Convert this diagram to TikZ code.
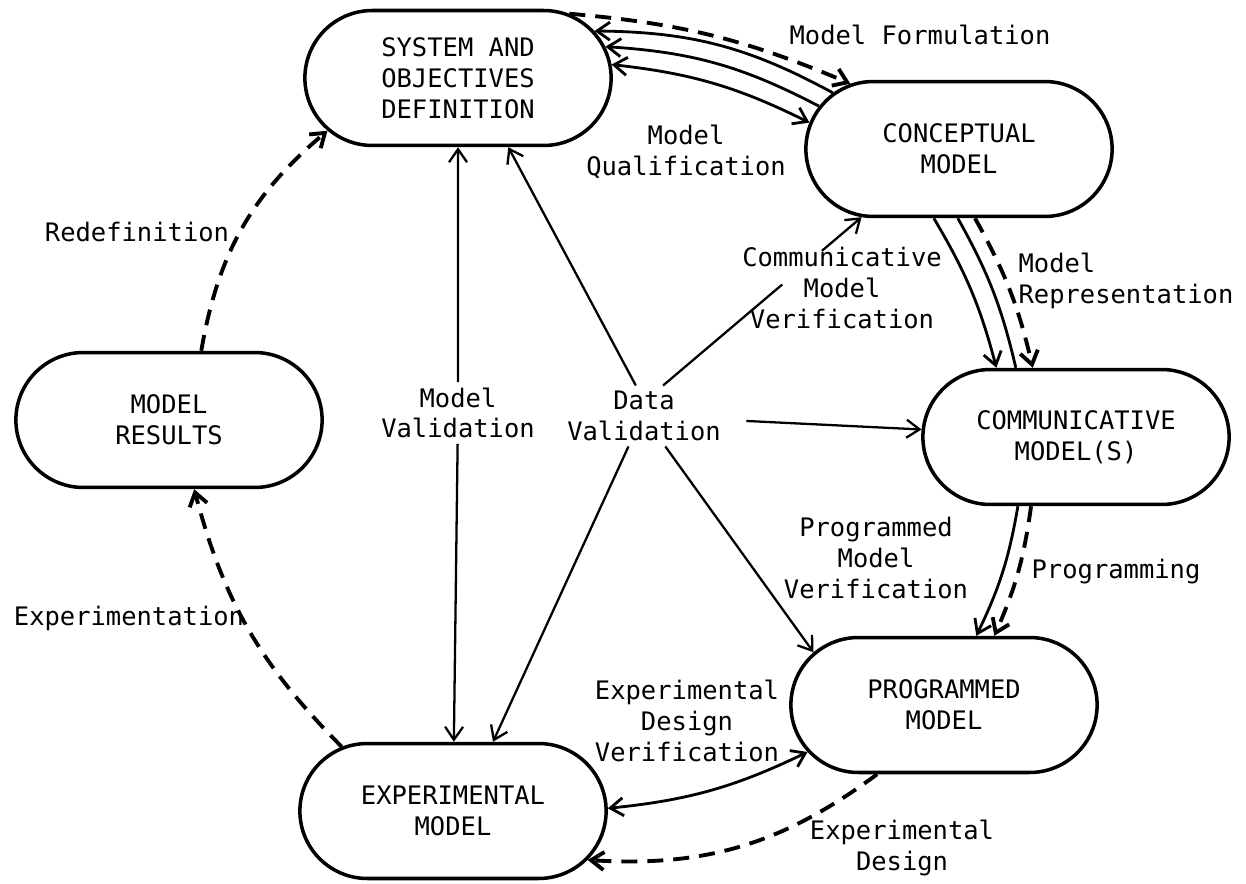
\documentclass[tikz,border=0pt]{standalone}
\usepackage{fontspec}
\setmonofont{DejaVu Sans Mono}
\usetikzlibrary{shapes.misc,arrows.meta,calc}
\tikzset{every node/.append style={font=\ttfamily\fontsize{14.5}{17.5}\selectfont}}
\tikzset{
	model/.style={rounded rectangle,draw,line width=2pt,minimum width=6.36cm,minimum height=2.7cm,align=center},
	tag/.style={align=center,inner sep=3pt},
	link/.style={line width=1.6pt},
	dashlink/.style={line width=2.2pt,dash pattern=on 3.2mm off 2mm},
	vline/.style={line width=1.3pt}
}

\begin{document}
\begin{tikzpicture}[x=0.02cm,y=0.02cm,>={Straight Barb[length=2.6mm,width=3.6mm]}]
	\useasboundingbox (0,0) rectangle (1246,883);
	% the six models
	\node[model] (sys) at (458,805) {SYSTEM AND\\OBJECTIVES\\DEFINITION};
	\node[model] (concept) at (959,734) {CONCEPTUAL\\MODEL};
	\node[model] (commun) at (1076,446) {COMMUNICATIVE\\MODEL(S)};
	\node[model] (prog) at (944,178) {PROGRAMMED\\MODEL};
	\node[model] (expm) at (453,72) {EXPERIMENTAL\\MODEL};
	\node[model] (results) at (169,463) {MODEL\\RESULTS};
	
	\node[tag,anchor=west] (formulation) at (784,848) {Model Formulation};
	\node[tag] (qualification) at (686,731) {Model\\Qualification};
	\node[tag] (redefinition) at (137,651) {Redefinition};
	\node[tag] (mvalid) at (458,470) {Model\\Validation};
	\node[tag] (dvalid) at (644,467) {Data\\Validation};
	\node[tag] (cmverif) at (842,595) {Communicative\\Model\\Verification};
	\node[tag,anchor=west,align=left] (represent) at (1013,602) {Model\\Representation};
	\node[tag] (pmverif) at (876,325) {Programmed\\Model\\Verification};
	\node[tag] (programming) at (1116,311) {Programming};
	\node[tag] (experimentation) at (129,265) {Experimentation};
	\node[tag] (edverif) at (687,162) {Experimental\\Design\\Verification};
	\node[tag] (edesign) at (902,35) {Experimental\\Design};
	
	% formulation, qualification
	\draw[dashlink,->] (sys.30) to[bend left=9] (concept.149);
	\draw[link,<-] (sys.19) to[bend left=14] (concept.156);
	\draw[link,<-] (sys.12) to[bend left=12] (concept.163);
	\draw[link,<->] (sys.5) to[bend left=10] (concept.170);
	% representation, programming
	\draw[link,->] (concept.250) to[bend left=8] (commun.139);
	\draw[link] (concept.269) to[bend left=8] (commun.131);
	\draw[dashlink,->] (concept.283) to[bend left=8] (commun.122);
	\draw[link,->] (commun.230) to[bend left=8] (prog.65);
	\draw[dashlink,->] (commun.237) to[bend left=8] (prog.54);
	% experimental design
	\draw[link,<->] (expm.1) to[bend right=10] (prog.199);
	\draw[dashlink,->] (prog.226) to[bend left=20] (expm.340);
	% experimentation, redefinition
	\draw[dashlink,->] (expm.150) to[bend left=15] (results.290);
	\draw[dashlink,->] (results.65) to[bend left=20] (sys.202);
	% validation
	\draw[vline,<-] (sys) -- (mvalid);
	\draw[vline,->] (mvalid) -- (expm);
	\draw[vline,->] (dvalid.105) -- (sys.306);
	\draw[vline] (dvalid.58) -- ($(dvalid.58)!0.6!(concept.215)$);
	\draw[vline,->] ($(dvalid.58)!0.8!(concept.215)$) -- (concept.215);
	\draw[vline,->,shorten <=0.4cm] (dvalid) -- (commun);
	\draw[vline,->] (dvalid.305) -- (prog.158);
	\draw[vline,->] (dvalid.243) -- (expm.60);
\end{tikzpicture}
\end{document}
